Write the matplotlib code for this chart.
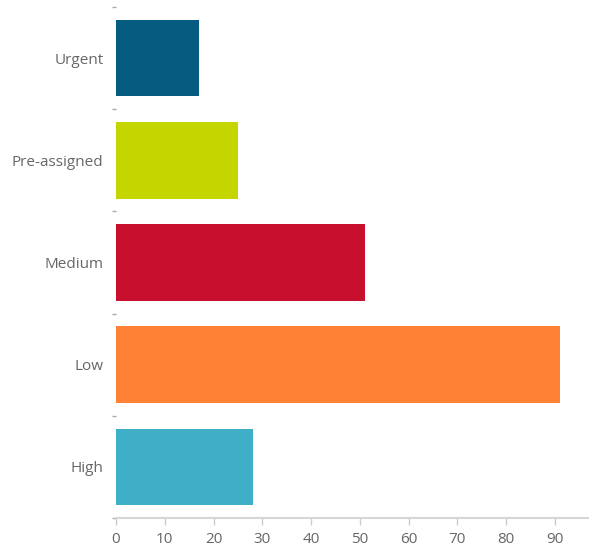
import matplotlib
matplotlib.use("Agg")
import matplotlib.pyplot as plt
import numpy as np

categories = ["Urgent", "Pre-assigned", "Medium", "Low", "High"]
values = [17, 25, 51, 91, 28]
colors = ["#055b80", "#c5d500", "#c8102e", "#fe8136", "#3faec7"]
x_ticks = [0, 10, 20, 30, 40, 50, 60, 70, 80, 90]

plt.rcParams["font.family"] = ["Open Sans", "DejaVu Sans"]

fig = plt.figure(figsize=(5.89, 5.55), dpi=100)
ax = fig.add_axes([116 / 589, 1 - 518 / 555, 1 - 116 / 589, (518 - 7) / 555])

y = np.arange(len(categories))
ax.barh(y, values, height=0.75, color=colors)

ax.set_ylim(len(categories) - 0.5, -0.5)
ax.set_xlim(0, 97)

ax.set_yticks(y)
ax.set_yticklabels(categories)
ax.set_yticks(np.arange(len(categories) + 1) - 0.5, minor=True)
ax.tick_params(axis="y", which="major", length=0, pad=9, labelsize=11, labelcolor="#666666")
ax.tick_params(axis="y", which="minor", length=3, color="#aaaaaa", width=1, pad=0)

ax.set_xticks(x_ticks)
ax.tick_params(axis="x", length=5, color="#cccccc", width=1, labelsize=11,
               labelcolor="#666666", pad=5)

for side in ["top", "right", "left"]:
    ax.spines[side].set_visible(False)
ax.spines["bottom"].set_color("#d6d6d6")
ax.spines["bottom"].set_linewidth(1.5)

fig.savefig("out.png", dpi=100)
